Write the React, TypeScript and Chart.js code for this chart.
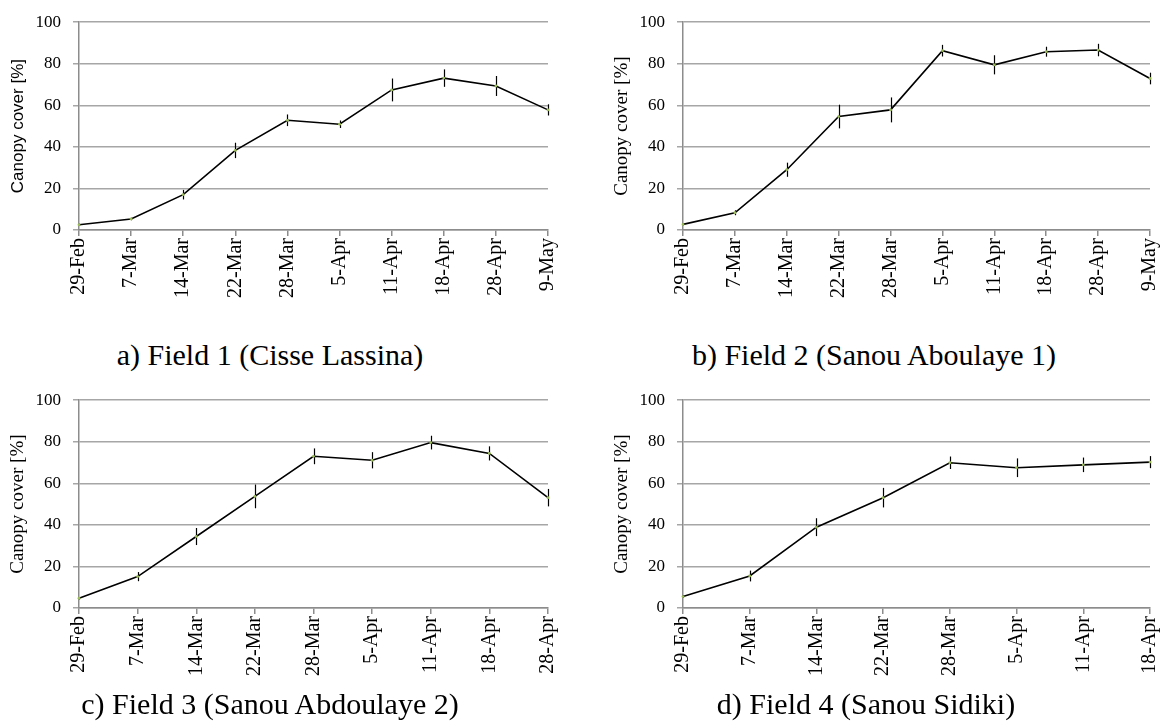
import React, { useEffect, useRef } from 'react';
import { Chart, registerables } from 'chart.js';

Chart.register(...registerables);

// ---- Data ----
const datesAB = ['29-Feb', '7-Mar', '14-Mar', '22-Mar', '28-Mar', '5-Apr', '11-Apr', '18-Apr', '28-Apr', '9-May'];
const datesC = ['29-Feb', '7-Mar', '14-Mar', '22-Mar', '28-Mar', '5-Apr', '11-Apr', '18-Apr', '28-Apr'];
const datesD = ['29-Feb', '7-Mar', '14-Mar', '22-Mar', '28-Mar', '5-Apr', '11-Apr', '18-Apr'];

const field1Values = [2.5, 5.3, 17.0, 38.3, 52.8, 50.9, 67.4, 73.1, 69.3, 57.8];
const field1Errors = [0.5, 0.6, 2.3, 3.7, 2.8, 1.8, 5.5, 4.2, 4.8, 2.7];

const field2Values = [2.7, 8.3, 29.0, 54.6, 57.8, 86.3, 79.5, 85.8, 86.6, 72.9];
const field2Errors = [0.4, 1.2, 3.4, 5.7, 6.0, 2.8, 4.6, 2.4, 3.0, 2.8];

const field3Values = [4.7, 15.1, 34.4, 53.7, 73.0, 71.1, 79.6, 74.4, 53.1];
const field3Errors = [0.6, 2.2, 4.1, 5.7, 3.8, 3.9, 3.3, 3.4, 4.2];

const field4Values = [5.5, 15.4, 38.9, 53.1, 69.9, 67.5, 68.9, 70.2];
const field4Errors = [0.6, 2.6, 4.3, 4.7, 3.0, 4.5, 3.5, 2.9];

const yTickValues = [0, 20, 40, 60, 80, 100];
const yAxisTitle = 'Canopy cover [%]';
const captions = [
  'a) Field 1 (Cisse Lassina)',
  'b) Field 2 (Sanou Aboulaye 1)',
  'c) Field 3 (Sanou Abdoulaye 2)',
  'd) Field 4 (Sanou Sidiki)',
];

const SERIF = '"Liberation Serif", "Times New Roman", serif';
const SANS = '"Liberation Sans", Arial, sans-serif';

const errorBarsPlugin = {
  id: 'errorBars',
  afterDatasetsDraw(chart: any, _args: any, opts: any) {
    const { ctx } = chart;
    const x = chart.scales.x;
    const y = chart.scales.y;
    const ds = chart.data.datasets[0];
    const errs: number[] = opts.errors || [];
    ctx.save();
    ctx.strokeStyle = '#000';
    ctx.lineWidth = 1.2;
    ds.data.forEach((v: number, i: number) => {
      const e = errs[i];
      if (!e) return;
      const px = Math.round(x.getPixelForValue(i)) + 0.5;
      ctx.beginPath();
      ctx.moveTo(px, y.getPixelForValue(v - e));
      ctx.lineTo(px, y.getPixelForValue(v + e));
      ctx.stroke();
    });
    ctx.fillStyle = '#9bbb59';
    ds.data.forEach((v: number, i: number) => {
      ctx.beginPath();
      ctx.arc(x.getPixelForValue(i), y.getPixelForValue(v), 1.4, 0, Math.PI * 2);
      ctx.fill();
    });
    ctx.restore();
  },
};

const CH = 310;
const Y_AXIS_W = 79;
const PAD_RIGHT = 14;

type PanelProps = {
  left: number;
  top: number;
  width: number;
  labels: string[];
  values: number[];
  errors: number[];
  sansTitle: boolean;
};

function Panel({ left, top, width, labels, values, errors, sansTitle }: PanelProps) {
  const ref = useRef<HTMLCanvasElement>(null);
  useEffect(() => {
    if (!ref.current) return;
    const titleFont = sansTitle
      ? { family: SANS, size: 17 }
      : { family: SERIF, size: 19 };
    const lh = titleFont.size * 1.2;
    const chart = new Chart(ref.current, {
      type: 'line',
      data: {
        labels,
        datasets: [
          {
            data: values,
            borderColor: '#000',
            borderWidth: 1.6,
            pointRadius: 0,
            tension: 0,
            fill: false,
          },
        ],
      },
      plugins: [errorBarsPlugin],
      options: {
        responsive: false,
        animation: false,
        layout: { padding: { top: 18, right: PAD_RIGHT, bottom: 0, left: 0 } },
        plugins: {
          legend: { display: false },
          tooltip: { enabled: false },
          errorBars: { errors },
        } as any,
        scales: {
          x: {
            type: 'category',
            offset: false,
            grid: { drawOnChartArea: false, drawTicks: true, tickLength: 6, color: '#8c8c8c', lineWidth: 1.5 },
            border: { color: '#8c8c8c', width: 1.5 },
            ticks: {
              autoSkip: false,
              maxRotation: 90,
              minRotation: 90,
              padding: 2,
              color: '#000',
              font: { family: SERIF, size: 20 },
            },
            afterFit: (s: any) => {
              s.height = CH - 230;
              s.paddingRight = 0;
              s.paddingLeft = 0;
            },
          },
          y: {
            min: 0,
            max: 100,
            afterBuildTicks: (s: any) => {
              s.ticks = yTickValues.map((v) => ({ value: v }));
            },
            grid: { color: '#a6a6a6', lineWidth: 1.5, tickLength: 6 },
            border: { color: '#8c8c8c', width: 1.5 },
            ticks: {
              padding: 12,
              color: '#000',
              font: { family: SERIF, size: 17 },
            },
            title: {
              display: true,
              text: yAxisTitle,
              color: '#000',
              font: titleFont,
              padding: { top: 18 - lh / 2, bottom: 0 },
            },
            afterFit: (s: any) => {
              s.width = Y_AXIS_W;
            },
          },
        },
      } as any,
    });
    return () => chart.destroy();
  }, []);
  return (
    <canvas
      ref={ref}
      width={width}
      height={CH}
      style={{ position: 'absolute', left, top, width, height: CH }}
    />
  );
}

function Caption({ text, cx, baseline }: { text: string; cx: number; baseline: number }) {
  return (
    <div
      style={{
        position: 'absolute',
        left: cx - 250,
        width: 500,
        top: baseline - 24,
        textAlign: 'center',
        fontFamily: SERIF,
        fontSize: 30,
        lineHeight: '30px',
        color: '#000',
        whiteSpace: 'nowrap',
      }}
    >
      {text}
    </div>
  );
}

export default function App() {
  return (
    <div style={{ position: 'absolute', left: 0, top: 0, width: 1164, height: 722, background: '#fff', overflow: 'hidden' }}>
      <Panel left={0} top={0} width={562} labels={datesAB} values={field1Values} errors={field1Errors} sansTitle={true} />
      <Panel left={604} top={0} width={560} labels={datesAB} values={field2Values} errors={field2Errors} sansTitle={false} />
      <Panel left={0} top={378} width={562} labels={datesC} values={field3Values} errors={field3Errors} sansTitle={false} />
      <Panel left={604} top={378} width={560} labels={datesD} values={field4Values} errors={field4Errors} sansTitle={false} />
      <Caption text={captions[0]} cx={270} baseline={364} />
      <Caption text={captions[1]} cx={874} baseline={364} />
      <Caption text={captions[2]} cx={270} baseline={713} />
      <Caption text={captions[3]} cx={866} baseline={713} />
    </div>
  );
}
